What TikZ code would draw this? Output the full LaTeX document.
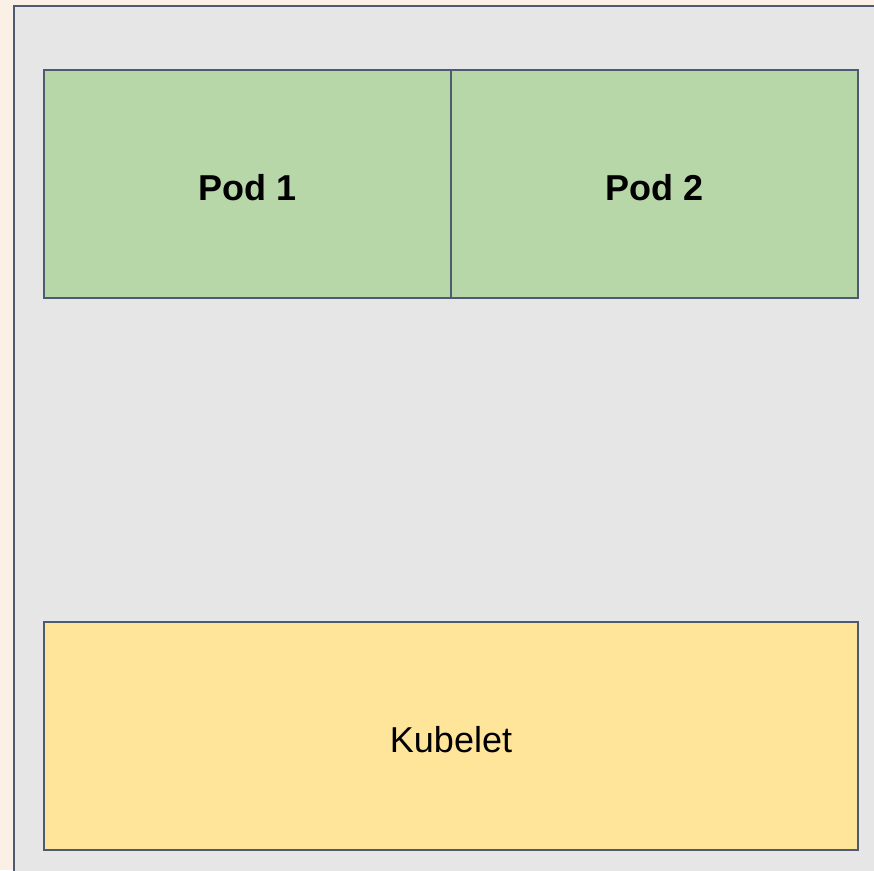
\documentclass[tikz,border=0pt]{standalone}
\usepackage{fontspec}
\setmainfont{Liberation Sans}
\definecolor{pagebg}{HTML}{FBF0E6}
\definecolor{nodebg}{HTML}{E6E6E6}
\definecolor{podgreen}{HTML}{B7D7A8}
\definecolor{kubeyellow}{HTML}{FFE599}
\definecolor{edge}{HTML}{4C5B72}
\tikzset{
  panel/.style={draw=edge, line width=1.9pt},
  podbox/.style={panel, fill=podgreen, minimum width=407pt, minimum height=228pt,
    inner sep=0pt, text height=32pt, text depth=0pt,
    font=\fontsize{36}{40}\selectfont\bfseries},
  kubebox/.style={panel, fill=kubeyellow, minimum width=814pt, minimum height=228pt,
    inner sep=0pt, text height=33pt, text depth=0pt,
    font=\fontsize{36}{40}\selectfont}
}
\begin{document}
\begin{tikzpicture}[x=1pt,y=-1pt]
  % page background and clip to it
  \fill[pagebg] (0,0) rectangle (874,870);
  \useasboundingbox (0,0) rectangle (874,870);
  % worker node area (runs past the right and bottom edges)
  \begin{scope}
    \clip (0,0) rectangle (874,870);
    \draw[panel, fill=nodebg] (14,6) rectangle (890,890);
  \end{scope}
  % pods
  \node[podbox] (pod1) at (247.5,184) {Pod 1};
  \node[podbox] (pod2) at (654.5,184) {Pod 2};
  % kubelet
  \node[kubebox] (kubelet) at (451,736) {Kubelet};
\end{tikzpicture}
\end{document}
